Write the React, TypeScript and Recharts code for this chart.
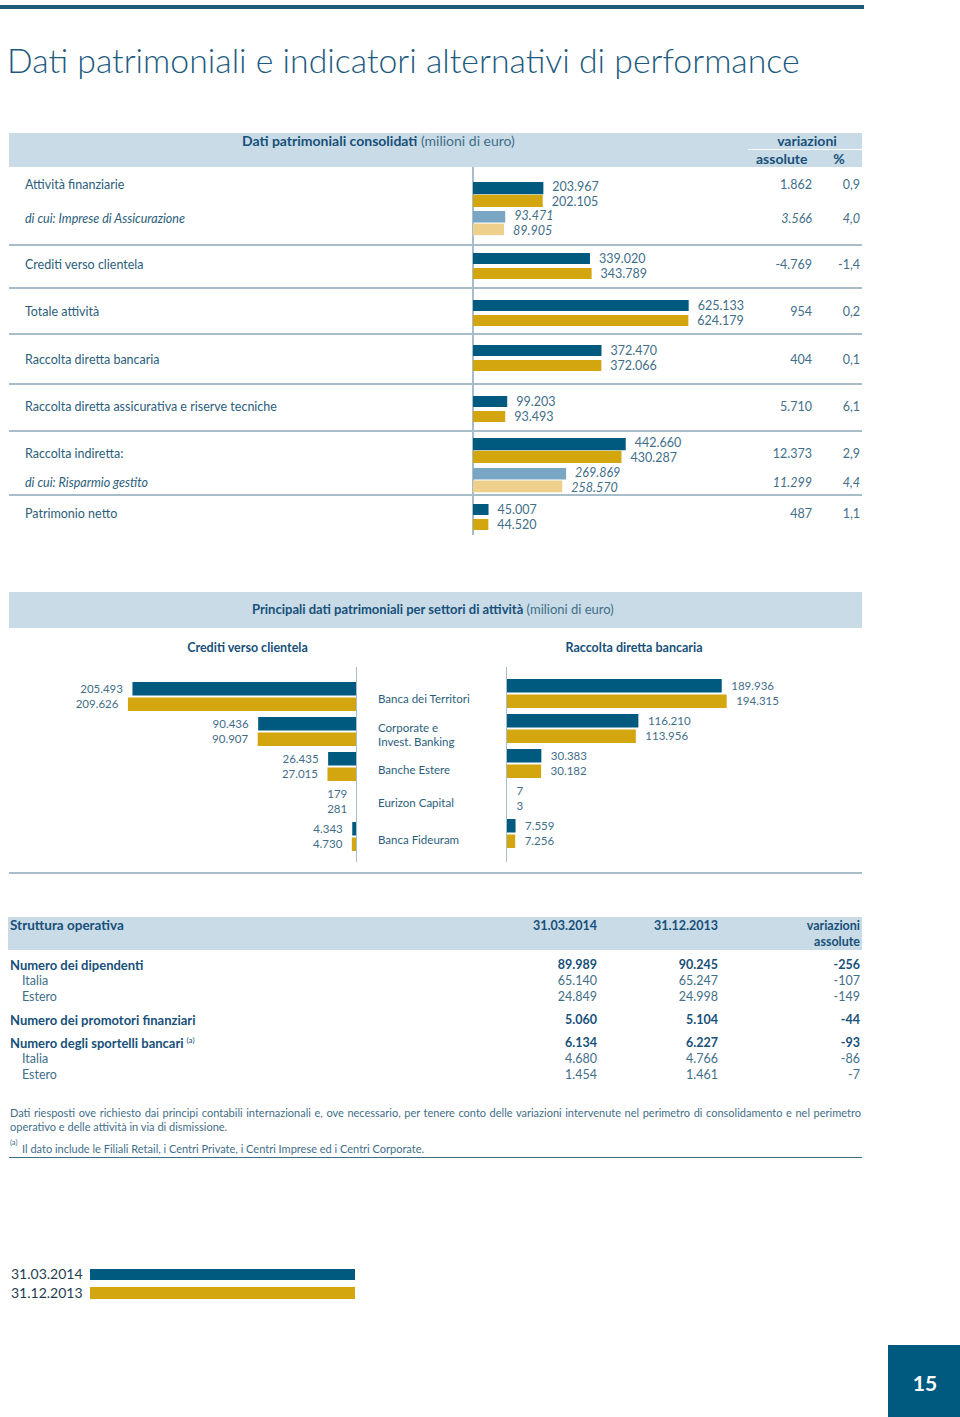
import React from 'react';
import { BarChart, Bar, XAxis, YAxis, LabelList } from 'recharts';

const FONT = 'Lato, "Open Sans", sans-serif';
const DARK = '#005a80';
const GOLD = '#d3a50f';
const LIGHT_BLUE = '#79a7c3';
const LIGHT_GOLD = '#eecf8c';
const TITLE = '#1c5a80';
const HEAD = '#17507a';
const TEXT = '#2b5e7b';
const NUM = '#3f6e89';
const BAND = '#c9dbe6';
const RULE = '#a7bdca';

// ---------- Section 1: Dati patrimoniali consolidati ----------
const mainLabels = [
  'Attività finanziarie',
  'Crediti verso clientela',
  'Totale attività',
  'Raccolta diretta bancaria',
  'Raccolta diretta assicurativa e riserve tecniche',
  'Raccolta indiretta:',
  'Patrimonio netto',
];
const mainCur = [203967, 339020, 625133, 372470, 99203, 442660, 45007];
const mainPrev = [202105, 343789, 624179, 372066, 93493, 430287, 44520];
const mainVarAbs = [1862, -4769, 954, 404, 5710, 12373, 487];
const mainVarPct = [0.9, -1.4, 0.2, 0.1, 6.1, 2.9, 1.1];

const subLabels = ['di cui: Imprese di Assicurazione', 'di cui: Risparmio gestito'];
const subCur = [93471, 269869];
const subPrev = [89905, 258570];
const subVarAbs = [3566, 11299];
const subVarPct = [4.0, 4.4];

// ---------- Section 2: per settori di attività ----------
const sectorLabels = ['Banca dei Territori', 'Corporate e|Invest. Banking', 'Banche Estere', 'Eurizon Capital', 'Banca Fideuram'];
const creditiCur = [205493, 90436, 26435, 179, 4343];
const creditiPrev = [209626, 90907, 27015, 281, 4730];
const raccoltaCur = [189936, 116210, 30383, 7, 7559];
const raccoltaPrev = [194315, 113956, 30182, 3, 7256];

// ---------- Section 3: Struttura operativa ----------
const tableLabels = [
  'Numero dei dipendenti',
  'Italia',
  'Estero',
  'Numero dei promotori finanziari',
  'Numero degli sportelli bancari',
  'Italia',
  'Estero',
];
const tableLevel = [0, 1, 1, 0, 0, 1, 1];
const tableNote = ['', '', '', '', '(a)', '', ''];
const table2014 = [89989, 65140, 24849, 5060, 6134, 4680, 1454];
const table2013 = [90245, 65247, 24998, 5104, 6227, 4766, 1461];
const tableVar = [-256, -107, -149, -44, -93, -86, -7];

const legendLabels = ['31.03.2014', '31.12.2013'];

// ---------- layout (positions) ----------
const mainTextY = [185, 265, 312, 360, 407, 454, 514];
const mainBarY = [194, 266.2, 313, 357.5, 408.7, 450, 517.2];
const mainAdjacent = [true, false, false, false, false, true, false];
const subTextY = [219, 483];
const subBarY = [223, 479.5];
const sepY = [245, 288, 334, 384, 431, 495];
const sectorTextY = [[699], [728, 742], [770], [803], [840]];
const tableY = [965, 981, 996.7, 1020, 1043.3, 1059, 1075];

function fmtInt(n: number) {
  const s = Math.abs(Math.round(n)).toString().replace(/\B(?=(\d{3})+(?!\d))/g, '.');
  return (n < 0 ? '-' : '') + s;
}
function fmtPct(n: number) {
  return n.toFixed(1).replace('.', ',');
}

type LabelOpts = { side: 'right' | 'left'; size: number; offset: number; italic?: boolean; shift?: number };
function makeLabel(o: LabelOpts) {
  return (p: any) => {
    const vb = p.viewBox && typeof p.viewBox.x === 'number' ? p.viewBox : p;
    const x = Number(vb.x), w = Number(vb.width), y = Number(vb.y), h = Number(vb.height);
    const lo = Math.min(x, x + w), hi = Math.max(x, x + w);
    const lx = o.side === 'right' ? hi + o.offset : lo - o.offset;
    return (
      <text
        x={lx}
        y={y + h / 2 + (o.shift || 0)}
        dy="0.36em"
        textAnchor={o.side === 'right' ? 'start' : 'end'}
        fontSize={o.size}
        fontFamily={FONT}
        fill={NUM}
        fontStyle={o.italic ? 'italic' : 'normal'}
      >
        {fmtInt(Number(p.value))}
      </text>
    );
  };
}

function Txt(props: any) {
  const { x, y, anchor = 'start', size = 13, color = TEXT, weight = 400, italic = false, children } = props;
  const style: any = {
    position: 'absolute',
    top: y,
    transform: 'translateY(-50%)',
    fontSize: size,
    color,
    fontWeight: weight,
    fontStyle: italic ? 'italic' : 'normal',
    whiteSpace: 'nowrap',
    lineHeight: 1,
  };
  if (anchor === 'start') style.left = x;
  else if (anchor === 'end') style.right = 960 - x;
  else {
    style.left = x;
    style.transform = 'translate(-50%,-50%)';
  }
  return <div style={style}>{children}</div>;
}

function HLine({ x, y, w, h = 1.5, color = RULE }: any) {
  return <div style={{ position: 'absolute', left: x, top: y - h / 2, width: w, height: h, background: color }} />;
}
function VLine({ x, y, h, w = 1.5, color = RULE }: any) {
  return <div style={{ position: 'absolute', left: x - w / 2, top: y, width: w, height: h, background: color }} />;
}

const S1_LEFT = 473;
const S1_W = 389;
const S1_MAX = 1127500;
const S1_H = 40;

function S1Row({ center, cur, prev, colors, size, gap, italic, tight }: any) {
  const data = [{ k: 'v', cur, prev }];
  return (
    <div style={{ position: 'absolute', left: S1_LEFT, top: center - S1_H / 2 }}>
      <BarChart
        layout="vertical"
        width={S1_W}
        height={S1_H}
        data={data}
        margin={{ top: 0, right: 0, bottom: 0, left: 0 }}
        barGap={gap}
        barCategoryGap={0}
      >
        <XAxis type="number" domain={[0, S1_MAX]} hide />
        <YAxis type="category" dataKey="k" hide />
        <Bar dataKey="cur" fill={colors[0]} barSize={size} isAnimationActive={false}>
          <LabelList
            dataKey="cur"
            content={makeLabel({ side: 'right', size: 12.5, offset: 9, italic, shift: tight ? -1.3 : 0 })}
          />
        </Bar>
        <Bar dataKey="prev" fill={colors[1]} barSize={size} isAnimationActive={false}>
          <LabelList
            dataKey="prev"
            content={makeLabel({ side: 'right', size: 12.5, offset: 9, italic, shift: tight ? 0.8 : 0 })}
          />
        </Bar>
      </BarChart>
    </div>
  );
}

function SectorChart({ left, top, width, max, cur, prev, reversed }: any) {
  const data = sectorLabels.map((name, i) => ({ name, cur: cur[i], prev: prev[i] }));
  const side = reversed ? 'left' : 'right';
  return (
    <div style={{ position: 'absolute', left, top }}>
      <BarChart
        layout="vertical"
        width={width}
        height={175}
        data={data}
        margin={{ top: 0, right: 0, bottom: 0, left: 0 }}
        barGap={2}
        barCategoryGap={0}
      >
        <XAxis type="number" domain={[0, max]} reversed={reversed} hide />
        <YAxis type="category" dataKey="name" hide />
        <Bar dataKey="cur" fill={DARK} barSize={13.5} isAnimationActive={false}>
          <LabelList dataKey="cur" content={makeLabel({ side, size: 11.5, offset: 9.5 })} />
        </Bar>
        <Bar dataKey="prev" fill={GOLD} barSize={13.5} isAnimationActive={false}>
          <LabelList dataKey="prev" content={makeLabel({ side, size: 11.5, offset: 9.5 })} />
        </Bar>
      </BarChart>
    </div>
  );
}

export default function App() {
  return (
    <div
      style={{
        position: 'absolute',
        left: 0,
        top: 0,
        width: 960,
        height: 1417,
        background: '#ffffff',
        overflow: 'hidden',
        fontFamily: FONT,
      }}
    >
      {/* top rule and title */}
      <div style={{ position: 'absolute', left: 0, top: 5, width: 864, height: 3.5, background: '#1d5a7a' }} />
      <Txt x={7} y={61} size={33.8} weight={300} color={TITLE}>
        Dati patrimoniali e indicatori alternativi di performance
      </Txt>

      {/* ---------- section 1 ---------- */}
      <div style={{ position: 'absolute', left: 9, top: 133, width: 853, height: 34, background: BAND }} />
      <Txt x={242} y={141} size={14} color={HEAD}>
        <b>Dati patrimoniali consolidati</b> <span style={{ color: NUM }}>(milioni di euro)</span>
      </Txt>
      <Txt x={807} y={141} anchor="middle" size={14} weight={700} color={HEAD}>variazioni</Txt>
      <HLine x={748} y={149.5} w={114} h={1} color="#ffffff" />
      <Txt x={756} y={159} size={14} weight={700} color={HEAD}>assolute</Txt>
      <Txt x={839} y={159} anchor="middle" size={14} weight={700} color={HEAD}>%</Txt>

      {sepY.map((y, i) => (
        <HLine key={'s' + i} x={9} y={y} w={853} />
      ))}
      <VLine x={473} y={167} h={368} />

      {mainLabels.map((l, i) => (
        <React.Fragment key={'m' + i}>
          <Txt x={25} y={mainTextY[i]} size={12.5}>{l}</Txt>
          <Txt x={812} y={mainTextY[i]} anchor="end" size={12.5} color={NUM}>{fmtInt(mainVarAbs[i])}</Txt>
          <Txt x={860} y={mainTextY[i]} anchor="end" size={12.5} color={NUM}>{fmtPct(mainVarPct[i])}</Txt>
          <S1Row
            center={mainBarY[i]}
            cur={mainCur[i]}
            prev={mainPrev[i]}
            colors={[DARK, GOLD]}
            size={mainAdjacent[i] ? 12.2 : 11}
            gap={mainAdjacent[i] ? 0.5 : 4}
            tight={mainAdjacent[i]}
          />
        </React.Fragment>
      ))}
      {subLabels.map((l, i) => (
        <React.Fragment key={'sub' + i}>
          <Txt x={25} y={subTextY[i]} size={12.5} italic>{l}</Txt>
          <Txt x={812} y={subTextY[i]} anchor="end" size={12.5} color={NUM} italic>{fmtInt(subVarAbs[i])}</Txt>
          <Txt x={860} y={subTextY[i]} anchor="end" size={12.5} color={NUM} italic>{fmtPct(subVarPct[i])}</Txt>
          <S1Row
            center={subBarY[i]}
            cur={subCur[i]}
            prev={subPrev[i]}
            colors={[LIGHT_BLUE, LIGHT_GOLD]}
            size={11.6}
            gap={1}
            italic
            tight
          />
        </React.Fragment>
      ))}

      {/* ---------- section 2 ---------- */}
      <div style={{ position: 'absolute', left: 9, top: 592, width: 853, height: 36, background: BAND }} />
      <Txt x={252} y={609} size={13} color={HEAD}>
        <b>Principali dati patrimoniali per settori di attività</b>{' '}
        <span style={{ color: NUM }}>(milioni di euro)</span>
      </Txt>
      <Txt x={247.5} y={648} anchor="middle" size={12.5} weight={700} color={HEAD}>Crediti verso clientela</Txt>
      <Txt x={634} y={648} anchor="middle" size={12.5} weight={700} color={HEAD}>Raccolta diretta bancaria</Txt>

      <SectorChart left={26.7} top={678.7} width={330} max={302000} cur={creditiCur} prev={creditiPrev} reversed />
      <SectorChart left={506.7} top={676.3} width={355} max={314000} cur={raccoltaCur} prev={raccoltaPrev} />
      <VLine x={356.7} y={667} h={195} />
      <VLine x={506.7} y={667} h={195} />
      {sectorLabels.map((l, i) =>
        l.split('|').map((part, j) => (
          <Txt key={'sec' + i + '-' + j} x={378} y={sectorTextY[i][j]} size={11.5}>{part}</Txt>
        ))
      )}
      <HLine x={9} y={873} w={853} />

      {/* ---------- section 3: table ---------- */}
      <div style={{ position: 'absolute', left: 8, top: 917, width: 854, height: 33, background: BAND }} />
      <Txt x={10} y={925.7} size={13.5} weight={700} color={HEAD}>Struttura operativa</Txt>
      <Txt x={597} y={925.7} anchor="end" size={12.5} weight={700} color={HEAD}>{legendLabels[0]}</Txt>
      <Txt x={718} y={925.7} anchor="end" size={12.5} weight={700} color={HEAD}>{legendLabels[1]}</Txt>
      <Txt x={860} y={925.7} anchor="end" size={12.5} weight={700} color={HEAD}>variazioni</Txt>
      <Txt x={860} y={942} anchor="end" size={12.5} weight={700} color={HEAD}>assolute</Txt>
      {tableLabels.map((l, i) => {
        const bold = tableLevel[i] === 0;
        const c = bold ? HEAD : NUM;
        const w = bold ? 700 : 400;
        return (
          <React.Fragment key={'t' + i}>
            <Txt x={bold ? 10 : 22} y={tableY[i]} size={bold ? 13 : 12.5} weight={w} color={c}>
              {l}
              {tableNote[i] ? <sup style={{ fontSize: 8, fontWeight: 400, marginLeft: 3 }}>{tableNote[i]}</sup> : null}
            </Txt>
            <Txt x={597} y={tableY[i]} anchor="end" size={12.5} weight={w} color={c}>{fmtInt(table2014[i])}</Txt>
            <Txt x={718} y={tableY[i]} anchor="end" size={12.5} weight={w} color={c}>{fmtInt(table2013[i])}</Txt>
            <Txt x={860} y={tableY[i]} anchor="end" size={12.5} weight={w} color={c}>{fmtInt(tableVar[i])}</Txt>
          </React.Fragment>
        );
      })}

      {/* footnotes */}
      <div
        style={{
          position: 'absolute',
          left: 10,
          top: 1106,
          width: 851,
          fontSize: 11,
          lineHeight: '14px',
          color: NUM,
          textAlign: 'justify',
          textAlignLast: 'justify',
          whiteSpace: 'nowrap',
        }}
      >
        Dati riesposti ove richiesto dai principi contabili internazionali e, ove necessario, per tenere conto delle
        variazioni intervenute nel perimetro di consolidamento e nel perimetro
      </div>
      <div
        style={{
          position: 'absolute',
          left: 10,
          top: 1120,
          fontSize: 11,
          lineHeight: '14px',
          color: NUM,
          whiteSpace: 'nowrap',
        }}
      >
        operativo e delle attività in via di dismissione.
      </div>
      <Txt x={10} y={1143} size={7.5} color={NUM}>(a)</Txt>
      <Txt x={22} y={1148} size={11} color={NUM}>
        Il dato include le Filiali Retail, i Centri Private, i Centri Imprese ed i Centri Corporate.
      </Txt>
      <HLine x={9} y={1157.5} w={853} h={1.5} color="#3f6f86" />

      {/* legend */}
      <Txt x={11} y={1274} size={14} weight={400} color="#1f3e50">{legendLabels[0]}</Txt>
      <Txt x={11} y={1293} size={14} weight={400} color="#1f3e50">{legendLabels[1]}</Txt>
      <div style={{ position: 'absolute', left: 90, top: 1268.5, width: 265, height: 11.5, background: DARK }} />
      <div style={{ position: 'absolute', left: 90, top: 1287, width: 265, height: 11.5, background: GOLD }} />

      {/* page number */}
      <div style={{ position: 'absolute', left: 888, top: 1345, width: 72, height: 72, background: DARK }} />
      <Txt x={925} y={1382} anchor="middle" size={21} weight={700} color="#ffffff">15</Txt>
    </div>
  );
}
